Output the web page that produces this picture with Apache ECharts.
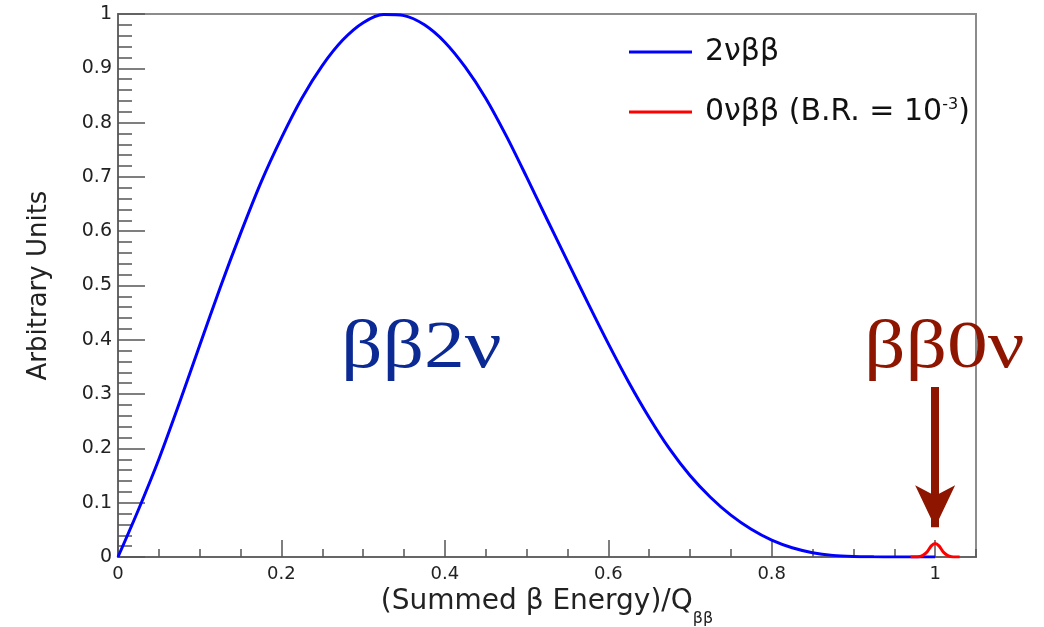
<!DOCTYPE html>
<html><head><meta charset="utf-8">
<script src="https://cdn.jsdelivr.net/npm/echarts@6/dist/echarts.min.js"></script>
<style>html,body{margin:0;padding:0;background:#fff}#c{width:1044px;height:627px}</style>
</head><body><div id="c"></div>
<script>
// ---- data ----
const seriesNames = ['2νββ', '0νββ (B.R. = 10^-3)'];
const xTwoNu = [0,0.025,0.05,0.075,0.1,0.125,0.15,0.175,0.2,0.225,0.25,0.275,0.3,0.325,0.35,0.375,0.4,0.425,0.45,0.475,0.5,0.525,0.55,0.575,0.6,0.625,0.65,0.675,0.7,0.725,0.75,0.775,0.8,0.825,0.85,0.875,0.9,0.925,0.95,0.975,1.0];
const yTwoNu = [0,0.087,0.180,0.283,0.390,0.496,0.596,0.690,0.772,0.845,0.905,0.952,0.984,0.999,0.997,0.980,0.948,0.902,0.845,0.776,0.700,0.622,0.545,0.468,0.393,0.322,0.257,0.199,0.150,0.110,0.077,0.051,0.031,0.017,0.008,0.003,0.001,0.0003,0,0,0];
const xZeroNu = [0.97,0.975,0.98,0.985,0.99,0.995,1.0,1.005,1.01,1.015,1.02,1.025,1.03];
const yZeroNu = [0,0,0.0005,0.003,0.009,0.02,0.025,0.02,0.009,0.003,0.0005,0,0];
const arrowFrom = [1.0, 0.313];
const arrowTo = [1.0, 0.055];
const annotations = ['ββ2ν', 'ββ0ν'];
const xTitleMain = '(Summed β Energy)/Q';
const xTitleSub = 'ββ';
const yTitle = 'Arbitrary Units';

const pairs = (xs, ys) => xs.map((x, i) => [x, ys[i]]);
const chart = echarts.init(document.getElementById('c'), null, {renderer: 'canvas'});
const sans = 'DejaVu Sans';
const tickStyle = {color: '#555', width: 1.5};
chart.setOption({
  animation: false,
  backgroundColor: '#fff',
  grid: {left: 118, right: 68, top: 14, bottom: 70, show: true, borderColor: '#8c8c8c', borderWidth: 2, containLabel: false, outerBoundsMode: 'none'},
  legend: {
    orient: 'vertical', left: 629, top: 37, padding: 0, itemWidth: 63, itemHeight: 3, itemGap: 30,
    icon: 'rect', selectedMode: false,
    data: seriesNames,
    formatter: name => name.replace('^-3', '{sup|-3}'),
    textStyle: {fontSize: 30, fontFamily: sans, color: '#111', lineHeight: 30, padding: [0, 0, 0, 8],
      rich: {sup: {fontSize: 16, fontFamily: sans, color: '#111', verticalAlign: 'top', lineHeight: 30, padding: [0,0,10,0]}}}
  },
  xAxis: [
    {type: 'value', min: 0, max: 1.05, interval: 0.05, position: 'bottom',
     axisLine: {show: true, onZero: false, lineStyle: {color: '#666', width: 2}},
     axisTick: {inside: true, length: 8, lineStyle: tickStyle},
     axisLabel: {show: false}, splitLine: {show: false}},
    {type: 'value', min: 0, max: 1.05, interval: 0.2, position: 'bottom', offset: 0,
     axisLine: {show: false, onZero: false},
     axisTick: {inside: true, length: 17, lineStyle: tickStyle},
     axisLabel: {fontSize: 18, fontFamily: sans, color: '#222', margin: 8, showMaxLabel: false,
       formatter: v => (Math.abs(v * 5 - Math.round(v * 5)) < 1e-6 ? String(+v.toFixed(1)) : '')},
     splitLine: {show: false},
     name: '{a|' + xTitleMain + '}{s|' + xTitleSub + '}', nameLocation: 'middle', nameGap: 25,
     nameTextStyle: {color: '#222', rich: {
       a: {fontSize: 28, fontFamily: sans, color: '#222', lineHeight: 28, verticalAlign: 'top'},
       s: {fontSize: 16, fontFamily: sans, color: '#222', lineHeight: 16, verticalAlign: 'top', padding: [23, 0, 0, 0]}
     }}}
  ],
  yAxis: {type: 'value', min: 0, max: 1, interval: 0.1,
    axisLine: {show: true, onZero: false, lineStyle: {color: '#666', width: 2}},
    axisTick: {inside: true, length: 27, lineStyle: tickStyle},
    minorTick: {show: true, splitNumber: 5, length: 14, lineStyle: tickStyle},
    axisLabel: {fontSize: 19, fontFamily: sans, color: '#222', margin: 6},
    splitLine: {show: false}, minorSplitLine: {show: false},
    name: yTitle, nameLocation: 'middle', nameGap: 66,
    nameTextStyle: {fontSize: 26, fontFamily: sans, color: '#222', lineHeight: 26}
  },
  series: [
    {name: seriesNames[0], type: 'line', xAxisIndex: 0, data: pairs(xTwoNu, yTwoNu), showSymbol: false, smooth: 0.3,
     color: '#0000ff', itemStyle: {color: '#0000ff'}, lineStyle: {color: '#0000ff', width: 3}, z: 2},
    {name: seriesNames[1], type: 'line', xAxisIndex: 0, data: pairs(xZeroNu, yZeroNu), showSymbol: false, smooth: 0.2,
     color: '#ff0000', itemStyle: {color: '#ff0000'}, lineStyle: {color: '#ff0000', width: 3}, z: 3,
     markLine: {silent: true, symbol: ['none', 'arrow'], symbolSize: [30, 42], animation: false,
       lineStyle: {color: '#8e1500', width: 8, type: 'solid'}, label: {show: false},
       data: [[{coord: arrowFrom}, {coord: arrowTo}]]}}
  ],
  graphic: [
    {type: 'text', x: 341, y: 349, scaleX: 1.2, z: 10, style: {text: annotations[0], fontSize: 68, fontFamily: 'Liberation Serif', fill: '#0c2a94', align: 'left', verticalAlign: 'middle'}},
    {type: 'text', x: 864, y: 349, scaleX: 1.2, z: 10, style: {text: annotations[1], fontSize: 68, fontFamily: 'Liberation Serif', fill: '#8e1500', align: 'left', verticalAlign: 'middle'}}
  ]
});
</script></body></html>
